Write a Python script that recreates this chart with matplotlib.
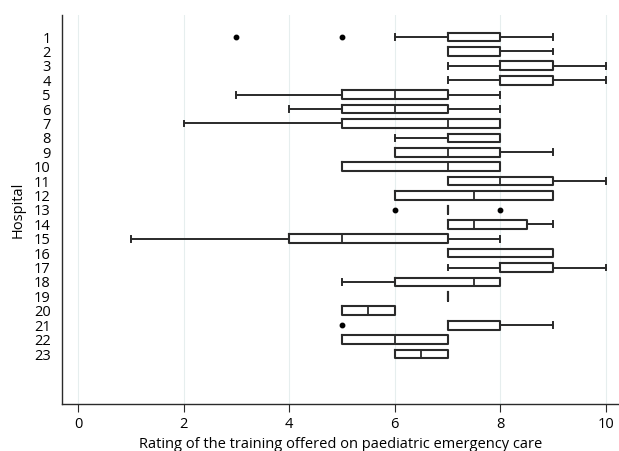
import matplotlib
matplotlib.use("Agg")
import matplotlib.pyplot as plt

hospitals = [str(i) for i in range(1, 24)]
whislo = [6, 7, 7, 7, 3, 4, 2, 6, 6, 5, 7, 6, 7, 7, 1, 7, 7, 5, 7, 5, 7, 5, 6]
q1     = [7, 7, 8, 8, 5, 5, 5, 7, 6, 5, 7, 6, 7, 7, 4, 7, 8, 6, 7, 5, 7, 5, 6]
med    = [7, 7, 8, 8, 6, 6, 7, 7, 7, 7, 8, 7.5, 7, 7.5, 5, 7, 8, 7.5, 7, 5.5, 7, 6, 6.5]
q3     = [8, 8, 9, 9, 7, 7, 8, 8, 8, 8, 9, 9, 7, 8.5, 7, 9, 9, 8, 7, 6, 8, 7, 7]
whishi = [9, 9, 10, 10, 8, 8, 8, 8, 9, 8, 10, 9, 7, 9, 8, 9, 10, 8, 7, 6, 9, 7, 7]
fliers = [[3, 5], [], [], [], [], [], [], [], [], [], [], [], [6, 8], [], [], [], [], [], [], [], [5], [], []]

plt.rcParams['font.family'] = ['Open Sans', 'DejaVu Sans']
fig = plt.figure(figsize=(6.19, 4.51), dpi=100)
ax = fig.add_axes([62/619, 47/451, 1 - 62/619, (404-15)/451])

stats = []
for i in range(len(hospitals)):
    stats.append(dict(whislo=whislo[i], q1=q1[i], med=med[i], q3=q3[i],
                      whishi=whishi[i], fliers=fliers[i], label=hospitals[i]))

lc = '#2a2a2a'
ax.bxp(stats, positions=range(1, 24), vert=False, widths=0.6, showfliers=True,
       boxprops=dict(color=lc, linewidth=1.5),
       medianprops=dict(color=lc, linewidth=1.3),
       whiskerprops=dict(color=lc, linewidth=1.4),
       capprops=dict(color=lc, linewidth=1.4),
       capwidths=0.4,
       flierprops=dict(marker='o', markersize=3.2, markerfacecolor='black',
                       markeredgecolor='black'))

ax.set_xlim(-0.303, 10.246)
ax.set_ylim(26.47, -0.527)
ax.set_xticks(range(0, 11, 2))
ax.set_yticks(range(1, 24))
ax.set_yticklabels(hospitals)
ax.tick_params(axis='y', length=0, labelsize=10.5, pad=8)
ax.tick_params(axis='x', which='major', length=6, labelsize=10.5, color=lc, pad=3)
ax.grid(axis='x', which='major', color='#e6eeee', linewidth=0.8)
ax.set_axisbelow(True)
for s in ['top', 'right']:
    ax.spines[s].set_visible(False)
for s in ['left', 'bottom']:
    ax.spines[s].set_color(lc)
    ax.spines[s].set_linewidth(1.0)
ax.set_xlabel('Rating of the training offered on paediatric emergency care', fontsize=10.5, labelpad=4)
ax.set_ylabel('Hospital', fontsize=10.5, labelpad=6)
fig.savefig('out.png', dpi=100)
